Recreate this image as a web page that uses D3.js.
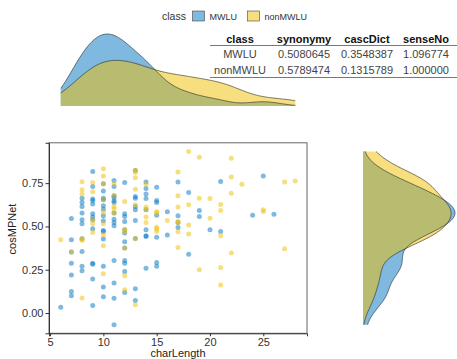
<!DOCTYPE html>
<html>
<head>
<meta charset="utf-8">
<script src="https://cdn.jsdelivr.net/npm/d3@7"></script>
<style>
  body { margin: 0; background: #fff; }
  svg { font-family: "Liberation Sans", Arial, sans-serif; }
</style>
</head>
<body>
<svg id="chart" width="457" height="359"></svg>
<script>
// MWLU points: charLength (x) and cosMPNet (y)
const mwluX = [6,
  7,7,7,7,7,7,7,
  8,8,8,8,8,8,8,8,8,8,
  9,9,9,9,9,9,9,9,9,9,9,9,9,
  10,10,10,10,10,10,10,10,10,10,10,10,10,10,
  11,11,11,11,11,11,11,11,11,11,11,11,11,11,
  12,12,12,12,12,12,12,12,12,12,12,12,
  13,13,13,13,13,13,13,13,13,
  14,14,14,14,14,14,14,14,14,
  15,15,15,15,15,15,15,
  16,16, 17,17,17,17, 18,18, 19,19, 20, 21,21, 24, 25, 26];
const mwluY = [0.033,
  0.546,0.423,0.288,0.219,0.125,0.100,0.352,
  0.663,0.638,0.615,0.577,0.538,0.515,0.429,0.356,0.270,0.244,
  0.817,0.730,0.658,0.650,0.630,0.573,0.554,0.538,0.487,0.288,0.281,0.196,0.044,
  0.746,0.704,0.663,0.654,0.619,0.600,0.562,0.533,0.471,0.477,0.427,0.270,0.150,0.094,
  0.765,0.730,0.677,0.667,0.648,0.638,0.577,0.542,0.523,0.504,0.304,0.173,0.085,-0.067,
  0.754,0.573,0.558,0.529,0.481,0.462,0.412,0.375,0.304,0.288,0.240,0.119,
  0.823,0.673,0.663,0.615,0.596,0.535,0.431,0.140,0.073,
  0.756,0.719,0.687,0.662,0.596,0.481,0.446,0.442,0.258,
  0.727,0.650,0.638,0.565,0.438,0.292,0.270,
  0.585,0.450, 0.756,0.562,0.523,0.494, 0.696,0.340, 0.592,0.558, 0.481, 0.760,0.471, 0.565, 0.792, 0.571];

// nonMWLU points
const nonX = [6, 7,
  8,8,8,8,8,8,
  9,9,9,9,9,
  10,10,10,10,10,10,10,10,10,
  11,11,11,11,11,
  12,12,12,12,12,12,
  13,13,13,13,13,13,13,
  14,14,14,14,14,
  15,15,15,15,15,
  16, 17,17,17,17,17,17,17,
  18,18,18,18, 19,19,19, 20,20,
  21,21,21,21,21, 22,22,22,22, 23, 25,25, 27,27, 28];
const nonY = [0.423, 0.352,
  0.758,0.712,0.687,0.429,0.419,0.087,
  0.754,0.700,0.538,0.515,0.465,
  0.833,0.792,0.746,0.656,0.580,0.515,0.452,0.388,0.227,
  0.746,0.677,0.615,0.602,0.577,
  0.644,0.481,0.470,0.375,0.215,0.135,
  0.823,0.812,0.781,0.715,0.625,0.431,0.048,
  0.744,0.612,0.600,0.554,0.523,
  0.585,0.580,0.496,0.485,0.471,
  0.535, 0.815,0.677,0.612,0.530,0.523,0.469,0.379,
  0.933,0.625,0.508,0.456, 0.900,0.663,0.250, 0.662,0.548,
  0.627,0.592,0.446,0.263,0.162, 0.894,0.785,0.692,0.346, 0.744, 0.596,0.587, 0.756,0.371, 0.763];

const classes = ["MWLU", "nonMWLU"];
const colors = ["#0073C2", "#EFC000"];

// summary table
const tableHeader = ["class", "synonymy", "cascDict", "senseNo"];
const synonymy = ["0.5080645", "0.5789474"];
const cascDict = ["0.3548387", "0.1315789"];
const senseNo = ["1.096774", "1.000000"];

const xTicks = [5, 10, 15, 20, 25];
const yTicks = [0, 0.25, 0.5, 0.75];

const svg = d3.select("#chart");

const groups = [
  { name: classes[0], color: colors[0], pts: mwluX.map((d, i) => [d, mwluY[i]]) },
  { name: classes[1], color: colors[1], pts: nonX.map((d, i) => [d, nonY[i]]) }
];
const allPts = groups[0].pts.concat(groups[1].pts);

// expand like ggplot (5% each side)
function expand(ext) {
  const pad = (ext[1] - ext[0]) * 0.05;
  return [ext[0] - pad, ext[1] + pad];
}
const xExt = d3.extent(allPts, d => d[0]);
const yExt = d3.extent(allPts, d => d[1]);

const x = d3.scaleLinear().domain(expand(xExt)).range([49, 307]);
const y = d3.scaleLinear().domain(expand(yExt)).range([333.3, 142.8]);

// gaussian kde, bw.nrd0
function kde(values, lo, hi) {
  const v = values.slice().sort(d3.ascending);
  const sd = d3.deviation(v);
  const iqr = d3.quantile(v, 0.75) - d3.quantile(v, 0.25);
  const bw = 0.9 * Math.min(sd, iqr / 1.34) * Math.pow(v.length, -0.2);
  const n = 256;
  const out = [];
  for (let i = 0; i < n; i++) {
    const t = lo + (hi - lo) * i / (n - 1);
    let s = 0;
    for (const d of v) {
      const u = (t - d) / bw;
      s += Math.exp(-0.5 * u * u);
    }
    out.push([t, s / (v.length * bw * Math.sqrt(2 * Math.PI))]);
  }
  return out;
}

groups.forEach(g => {
  g.dx = kde(g.pts.map(d => d[0]), xExt[0], xExt[1]);
  g.dy = kde(g.pts.map(d => d[1]), yExt[0], yExt[1]);
});

// top marginal density
const topY = d3.scaleLinear()
  .domain([0, d3.max(groups, g => d3.max(g.dx, d => d[1]))])
  .range([106, 34]);

groups.forEach(g => {
  svg.append("path")
    .datum(g.dx)
    .attr("fill", g.color)
    .attr("fill-opacity", 0.5)
    .attr("d", d3.area().x(d => x(d[0])).y0(topY(0)).y1(d => topY(d[1])));
});
groups.forEach(g => {
  svg.append("path")
    .datum(g.dx)
    .attr("fill", "none")
    .attr("stroke", "#222")
    .attr("stroke-width", 0.6)
    .attr("d", d3.line().x(d => x(d[0])).y(d => topY(d[1])));
});

// right marginal density
const rightX = d3.scaleLinear()
  .domain([0, d3.max(groups, g => d3.max(g.dy, d => d[1]))])
  .range([363, 455]);

groups.forEach(g => {
  svg.append("path")
    .datum(g.dy)
    .attr("fill", g.color)
    .attr("fill-opacity", 0.5)
    .attr("d", d3.area().y(d => y(d[0])).x0(rightX(0)).x1(d => rightX(d[1])));
});
groups.forEach(g => {
  svg.append("path")
    .datum(g.dy)
    .attr("fill", "none")
    .attr("stroke", "#222")
    .attr("stroke-width", 0.6)
    .attr("d", d3.line().y(d => y(d[0])).x(d => rightX(d[1])));
});

// scatter panel
svg.append("rect")
  .attr("x", 49).attr("y", 142.8)
  .attr("width", 258).attr("height", 190.5)
  .attr("fill", "none")
  .attr("stroke", "#666")
  .attr("stroke-width", 1);

groups.forEach(g => {
  svg.append("g").selectAll("circle")
    .data(g.pts)
    .enter()
    .append("circle")
    .attr("cx", d => x(d[0]))
    .attr("cy", d => y(d[1]))
    .attr("r", 2.5)
    .attr("fill", g.color)
    .attr("fill-opacity", 0.5);
});

const xAxis = svg.append("g")
  .attr("transform", "translate(0,333.3)")
  .call(d3.axisBottom(x).tickValues(xTicks).tickSize(3).tickPadding(1.5));
const yAxis = svg.append("g")
  .attr("transform", "translate(49,0)")
  .call(d3.axisLeft(y).tickValues(yTicks).tickFormat(d3.format(".2f")).tickSize(3.5).tickPadding(2));

[xAxis, yAxis].forEach(a => {
  a.select(".domain").attr("stroke", "#333");
  a.selectAll(".tick line").attr("stroke", "#333");
  a.selectAll("text")
    .attr("fill", "#333")
    .style("font-size", "11px")
    .style("font-family", "Liberation Sans, Arial, sans-serif");
});

svg.append("text")
  .attr("x", 178).attr("y", 356.5)
  .attr("text-anchor", "middle")
  .attr("font-size", 11)
  .attr("fill", "#222")
  .text("charLength");

svg.append("text")
  .attr("transform", "translate(16,229) rotate(-90)")
  .attr("text-anchor", "middle")
  .attr("font-size", 11)
  .attr("fill", "#222")
  .text("cosMPNet");

// legend
svg.append("text")
  .attr("x", 162).attr("y", 19.5)
  .attr("font-size", 10.5)
  .attr("fill", "#333")
  .text("class");

const legX = [192.5, 247.5];
groups.forEach((g, i) => {
  svg.append("rect")
    .attr("x", legX[i]).attr("y", 11)
    .attr("width", 12).attr("height", 10)
    .attr("fill", g.color)
    .attr("fill-opacity", 0.5)
    .attr("stroke", "#444")
    .attr("stroke-width", 0.6);
  svg.append("text")
    .attr("x", legX[i] + 17).attr("y", 19.5)
    .attr("font-size", 9)
    .attr("fill", "#333")
    .text(g.name);
});

// table
const colX = [240, 304, 367, 426];
const table = svg.append("g").attr("font-size", 11).attr("text-anchor", "middle");
tableHeader.forEach((h, i) => {
  table.append("text")
    .attr("x", colX[i]).attr("y", 42.5)
    .attr("font-weight", "bold")
    .attr("fill", "#111")
    .text(h);
});
const rows = classes.map((c, i) => [c, synonymy[i], cascDict[i], senseNo[i]]);
rows.forEach((r, j) => {
  r.forEach((v, i) => {
    table.append("text")
      .attr("x", colX[i]).attr("y", 57.5 + j * 16)
      .attr("fill", "#444")
      .text(v);
  });
});
[45.5, 77.5].forEach(ly => {
  svg.append("line")
    .attr("x1", 210).attr("x2", 457)
    .attr("y1", ly).attr("y2", ly)
    .attr("stroke", "#555")
    .attr("stroke-width", 0.8);
});
</script>
</body>
</html>
